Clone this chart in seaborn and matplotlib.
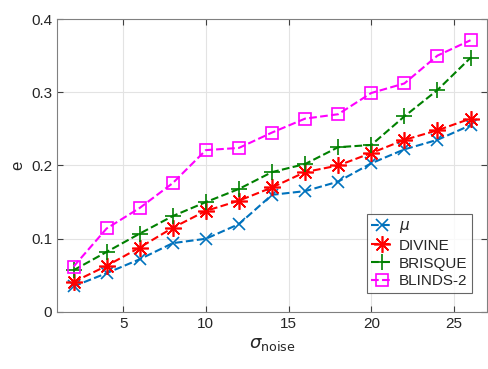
import numpy as np
import matplotlib
matplotlib.use("Agg")
import matplotlib.pyplot as plt
import seaborn as sns
import pandas as pd

sigma = [2, 4, 6, 8, 10, 12, 14, 16, 18, 20, 22, 24, 26]
mu = [0.035, 0.053, 0.072, 0.094, 0.100, 0.120, 0.160, 0.165, 0.178, 0.203, 0.222, 0.235, 0.255]
divine = [0.041, 0.063, 0.088, 0.115, 0.138, 0.152, 0.170, 0.191, 0.200, 0.217, 0.235, 0.248, 0.264]
brisque = [0.057, 0.082, 0.107, 0.131, 0.150, 0.168, 0.191, 0.202, 0.225, 0.228, 0.267, 0.303, 0.347]
blinds2 = [0.062, 0.114, 0.142, 0.176, 0.221, 0.224, 0.245, 0.264, 0.270, 0.299, 0.312, 0.350, 0.371]

sns.set_style("ticks")
plt.rcParams['font.family'] = ['Liberation Sans', 'DejaVu Sans']
plt.rcParams['mathtext.fontset'] = 'dejavusans'

fig = plt.figure(figsize=(4.89, 3.69), dpi=100)
ax = fig.add_axes([0.1166, 0.1545, 0.8794, 0.794])

# matlab-style asterisk: 8 spokes
series = [
    (r"$\mu$", mu, "#0072BD", "x", 9),
    ("DIVINE", divine, "#FF0000", (8, 2, 0), 12),
    ("BRISQUE", brisque, "#008000", "+", 12),
    ("BLINDS-2", blinds2, "#FF00FF", "s", 9),
]
for name, vals, col, mk, ms in series:
    df = pd.DataFrame({"sigma": sigma, "e": vals})
    sns.lineplot(data=df, x="sigma", y="e", ax=ax, color=col, linestyle="--",
                 marker=mk, markersize=ms, markerfacecolor="none", markeredgecolor=col,
                 markeredgewidth=1.2, linewidth=1.5, label=name)

ax.set_xlim(1, 27)
ax.set_ylim(0, 0.4)
ax.set_xticks([5, 10, 15, 20, 25])
ax.set_yticks([0, 0.1, 0.2, 0.3, 0.4])
ax.set_yticklabels(["0", "0.1", "0.2", "0.3", "0.4"])
ax.grid(True, color="#e3e3e3", linewidth=0.8)
ax.tick_params(direction="in", top=True, right=True, labelsize=11, length=4,
               color="#404040")
for s in ax.spines.values():
    s.set_color("#808080")
    s.set_linewidth(0.8)
ax.set_xlabel(r"$\sigma_{\mathrm{noise}}$", fontsize=13)
ax.set_ylabel("e", fontsize=12)
leg = ax.legend(loc="lower right", bbox_to_anchor=(0.965, 0.065), fontsize=11,
                frameon=True, fancybox=False, handlelength=1.4, handletextpad=0.4,
                borderpad=0.3, labelspacing=0.25, borderaxespad=0)
leg.get_frame().set_edgecolor("#404040")
leg.get_frame().set_linewidth(0.8)

fig.savefig("out.png", dpi=100)
